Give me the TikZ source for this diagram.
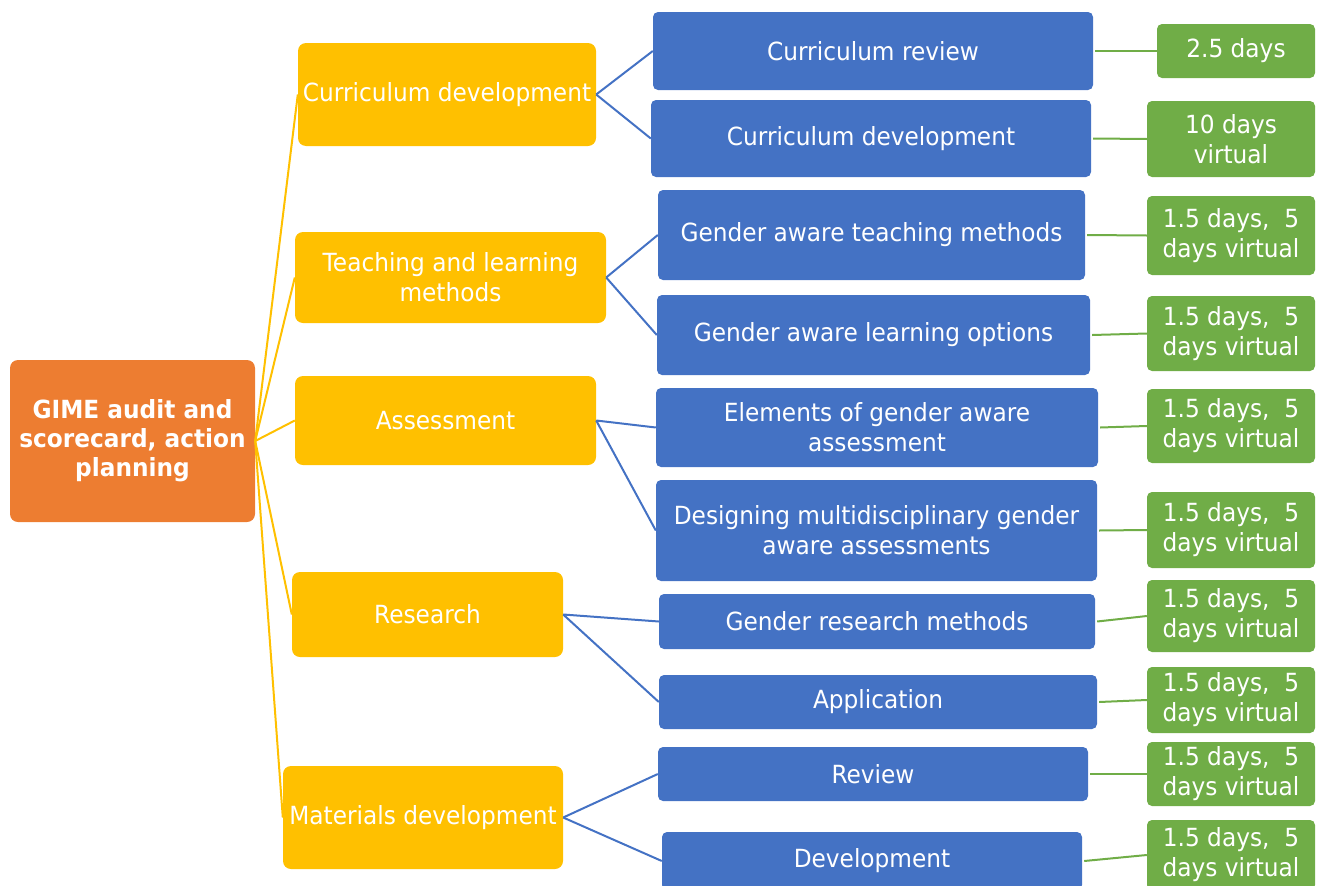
\documentclass[tikz,border=0pt]{standalone}
\usepackage{fontspec}
\setmainfont{DejaVu Sans}[FakeStretch=0.93]
\usetikzlibrary{positioning}

\definecolor{rootorange}{HTML}{ED7D31}
\definecolor{topicyellow}{HTML}{FFC000}
\definecolor{lessonblue}{HTML}{4472C4}
\definecolor{daysgreen}{HTML}{70AD47}

\begin{document}
\begin{tikzpicture}[x=1pt,y=-1pt,
  box/.style={rounded corners=8pt,text=white,align=center,inner sep=2pt,
    font=\fontsize{25}{30}\selectfont},
  rootbox/.style={box,fill=rootorange,font=\fontsize{25}{29}\selectfont\bfseries},
  topic/.style={box,fill=topicyellow},
  lesson/.style={box,fill=lessonblue,rounded corners=5pt},
  days/.style={box,fill=daysgreen,rounded corners=5pt,minimum width=168},
  tline/.style={topicyellow,line width=2pt},
  bline/.style={lessonblue,line width=2pt},
  gline/.style={daysgreen,line width=2pt}]
\useasboundingbox (0,0) rectangle (1320,886);

\node[rootbox,minimum width=245,minimum height=162] (gime) at (132.5,441)
  {GIME audit and\\scorecard, action\\planning};

% topics
\node[topic,minimum width=298,minimum height=103] (t1) at (447,94.5) {Curriculum development};
\node[topic,minimum width=311,minimum height=91] (t2) at (450.5,277.5) {Teaching and learning\\methods};
\node[topic,minimum width=301,minimum height=89] (t3) at (445.5,420.5) {Assessment};
\node[topic,minimum width=271,minimum height=85] (t4) at (427.5,614.5) {Research};
\node[topic,minimum width=280,minimum height=103] (t5) at (423,817.5) {Materials development};

% sessions
\node[lesson,minimum width=440,minimum height=78] (b1) at (873,51) {Curriculum review};
\node[lesson,minimum width=440,minimum height=77] (b2) at (871,138.5) {Curriculum development};
\node[lesson,minimum width=427,minimum height=90] (b3) at (871.5,235) {Gender aware teaching methods};
\node[lesson,minimum width=433,minimum height=80] (b4) at (873.5,335) {Gender aware learning options};
\node[lesson,minimum width=442,minimum height=79] (b5) at (877,427.5) {Elements of gender aware\\assessment};
\node[lesson,minimum width=441,minimum height=101] (b6) at (876.5,530.5) {Designing multidisciplinary gender\\aware assessments};
\node[lesson,minimum width=436,minimum height=55] (b7) at (877,621.5) {Gender research methods};
\node[lesson,minimum width=438,minimum height=54] (b8) at (878,702) {Application};
\node[lesson,minimum width=430,minimum height=54] (b9) at (873,774) {Review};
\node[lesson,minimum width=420,minimum height=58] (b10) at (872,861) {Development};

% durations
\node[days,minimum width=158,minimum height=54] (g1) at (1236,51) {2.5 days};
\node[days,minimum height=76] (g2) at (1231,139) {10 days\\virtual};
\node[days,minimum height=79] (g3) at (1231,235.5) {1.5 days,~ 5\\days virtual};
\node[days,minimum height=75] (g4) at (1231,333.5) {1.5 days,~ 5\\days virtual};
\node[days,minimum height=74] (g5) at (1231,426) {1.5 days,~ 5\\days virtual};
\node[days,minimum height=76] (g6) at (1231,530) {1.5 days,~ 5\\days virtual};
\node[days,minimum height=72] (g7) at (1231,616) {1.5 days,~ 5\\days virtual};
\node[days,minimum height=66] (g8) at (1231,700) {1.5 days,~ 5\\days virtual};
\node[days,minimum height=64] (g9) at (1231,774) {1.5 days,~ 5\\days virtual};
\node[days,minimum height=70] (g10) at (1231,855) {1.5 days,~ 5\\days virtual};

\foreach \t in {1,...,5}
  \draw[tline] (gime.east) -- (t\t.west);
\foreach \t/\b in {1/1,1/2,2/3,2/4,3/5,3/6,4/7,4/8,5/9,5/10}
  \draw[bline] (t\t.east) -- (b\b.west);
\foreach \b in {1,...,10}
  \draw[gline] ([xshift=2pt]b\b.east) -- (g\b.west);
\end{tikzpicture}
\end{document}
